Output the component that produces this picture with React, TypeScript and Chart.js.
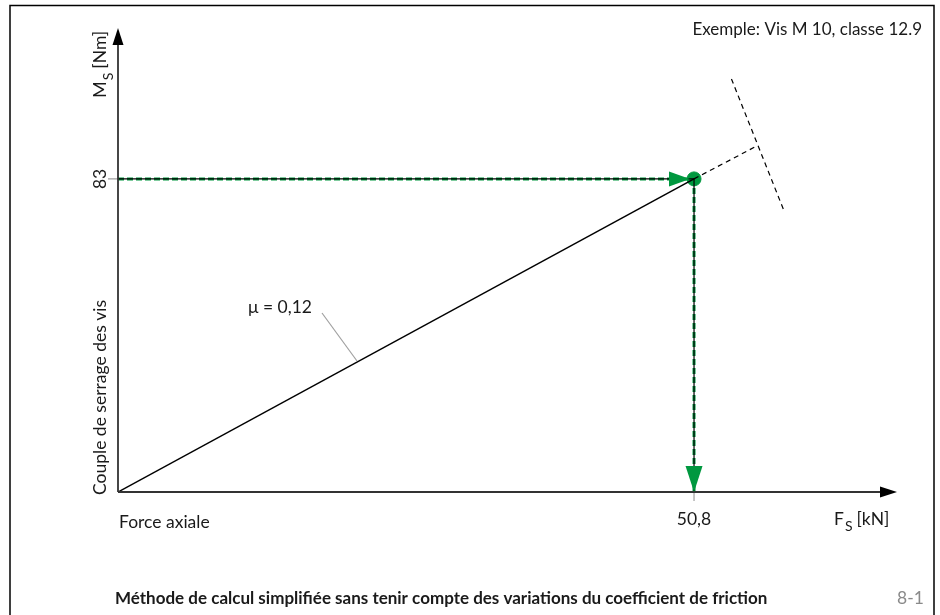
import React, { useEffect, useRef } from "react";
import { Chart, registerables } from "chart.js";

Chart.register(...registerables);

// ---- data ----
const forceValue = 50.8; // kN
const torqueValue = 83; // Nm
const xMax = 68.7;
const yMax = 123;
const frictionLine = [
  { x: 0, y: 0 },
  { x: 50.8, y: 83 },
];
const extensionLine = [
  { x: 50.8, y: 83 },
  { x: 56.35, y: 91.75 },
];
const limitLine = [
  { x: 54.1, y: 109.5 },
  { x: 58.7, y: 74.8 },
];
const horizGuide = [
  { x: 0, y: 83 },
  { x: 50.8, y: 83 },
];
const vertGuide = [
  { x: 50.8, y: 83 },
  { x: 50.8, y: 0 },
];
const xTickLabel = "50,8";
const yTickLabel = "83";
const muLabel = "μ = 0,12";
const titleText = "Exemple: Vis M 10, classe 12.9";
const footerText =
  "Méthode de calcul simplifiée sans tenir compte des variations du coefficient de friction";
const figNumber = "8-1";

const GREEN = "#00983f";
const TEXT = "#1a1a1a";
const FONT = "Lato, 'Open Sans', sans-serif";
const FS = 17.5;

const overlay = {
  id: "overlay",
  afterDatasetsDraw(chart: any) {
    const ctx = chart.ctx as CanvasRenderingContext2D;
    const xs = chart.scales.x;
    const ys = chart.scales.y;
    const x0 = xs.getPixelForValue(0);
    const y0 = ys.getPixelForValue(0);
    const xEnd = xs.getPixelForValue(xMax);
    const yTop = ys.getPixelForValue(yMax);
    const px = xs.getPixelForValue(forceValue);
    const py = ys.getPixelForValue(torqueValue);
    ctx.save();

    // frame
    ctx.strokeStyle = "#000";
    ctx.lineWidth = 1.5;
    ctx.beginPath();
    ctx.moveTo(10, 640);
    ctx.lineTo(10, 5.5);
    ctx.lineTo(934, 5.5);
    ctx.lineTo(934, 640);
    ctx.stroke();

    // tick marks (grey)
    ctx.strokeStyle = "#a0a0a0";
    ctx.lineWidth = 1.2;
    ctx.beginPath();
    ctx.moveTo(x0 - 10, py);
    ctx.lineTo(x0, py);
    ctx.moveTo(px, y0);
    ctx.lineTo(px, y0 + 9);
    ctx.stroke();

    // mu leader line
    ctx.beginPath();
    ctx.moveTo(322, 313);
    ctx.lineTo(357, 361);
    ctx.stroke();

    // axes
    ctx.strokeStyle = "#333";
    ctx.fillStyle = "#000";
    ctx.lineWidth = 1.8;
    ctx.beginPath();
    ctx.moveTo(x0, y0);
    ctx.lineTo(xEnd - 10, y0);
    ctx.moveTo(x0, y0);
    ctx.lineTo(x0, yTop + 10);
    ctx.stroke();
    ctx.beginPath();
    ctx.moveTo(xEnd, y0);
    ctx.lineTo(xEnd - 17, y0 - 5.5);
    ctx.lineTo(xEnd - 17, y0 + 5.5);
    ctx.closePath();
    ctx.fill();
    ctx.beginPath();
    ctx.moveTo(x0, yTop);
    ctx.lineTo(x0 - 5.5, yTop + 17);
    ctx.lineTo(x0 + 5.5, yTop + 17);
    ctx.closePath();
    ctx.fill();

    // green arrowheads
    ctx.fillStyle = GREEN;
    ctx.beginPath();
    ctx.moveTo(px - 4, py);
    ctx.lineTo(px - 25, py - 7.5);
    ctx.lineTo(px - 25, py + 7.5);
    ctx.closePath();
    ctx.fill();
    ctx.beginPath();
    ctx.moveTo(px, y0);
    ctx.lineTo(px - 8.5, y0 - 26);
    ctx.lineTo(px + 8.5, y0 - 26);
    ctx.closePath();
    ctx.fill();

    // texts
    ctx.fillStyle = TEXT;
    ctx.textBaseline = "alphabetic";
    ctx.textAlign = "right";
    ctx.font = `17px ${FONT}`;
    ctx.fillText(titleText, 922, 35);
    ctx.font = `${FS}px ${FONT}`;
    ctx.textAlign = "left";
    ctx.fillText("Force axiale", x0 + 1, 528);
    ctx.fillText(muLabel, 248, 313);
    ctx.textAlign = "center";
    ctx.fillText(xTickLabel, px, 525);
    // F_S [kN]
    ctx.textAlign = "left";
    ctx.fillText("F", 834, 525);
    const fw = ctx.measureText("F").width;
    ctx.font = `14px ${FONT}`;
    ctx.fillText("S", 834 + fw + 1, 531);
    const sw = ctx.measureText("S").width;
    ctx.font = `${FS}px ${FONT}`;
    ctx.fillText("[kN]", 834 + fw + sw + 5, 525);

    // rotated y texts
    const rot = (fn: () => void, x: number, y: number) => {
      ctx.save();
      ctx.translate(x, y);
      ctx.rotate(-Math.PI / 2);
      fn();
      ctx.restore();
    };
    rot(() => {
      ctx.textAlign = "center";
      ctx.fillText(yTickLabel, 0, 0);
    }, 106, py);
    rot(() => {
      ctx.textAlign = "left";
      ctx.fillText("Couple de serrage des vis", 0, 0);
    }, 106, 495);
    rot(() => {
      ctx.textAlign = "left";
      ctx.font = `18px ${FONT}`;
      ctx.fillText("M", 0, 0);
      const mw = ctx.measureText("M").width;
      ctx.font = `14px ${FONT}`;
      ctx.fillText("S", mw + 1, 7);
      const s2 = ctx.measureText("S").width;
      ctx.font = `${FS}px ${FONT}`;
      ctx.fillText("[Nm]", mw + s2 + 5, 0);
    }, 106, 98);

    // footer
    ctx.textAlign = "left";
    ctx.font = `bold 17px ${FONT}`;
    ctx.fillText(footerText, 115, 604);
    ctx.font = `${FS}px ${FONT}`;
    ctx.fillStyle = "#8a8a8a";
    ctx.fillText(figNumber, 897, 604);

    ctx.restore();
  },
};

export default function App() {
  const ref = useRef<HTMLCanvasElement | null>(null);
  useEffect(() => {
    if (!ref.current) return;
    const line = (data: any, color: string, width: number, dash: number[] = []) => ({
      type: "line" as const,
      data,
      borderColor: color,
      borderWidth: width,
      borderDash: dash,
      pointRadius: 0,
      fill: false,
      showLine: true,
    });
    const chart = new Chart(ref.current, {
      type: "scatter",
      data: {
        datasets: [
          line(frictionLine, "#000", 1.5),
          line(extensionLine, "#000", 1.2, [5, 4]),
          line(limitLine, "#000", 1.2, [5, 4]),
          line(horizGuide, "#000", 1.2),
          line(horizGuide, GREEN, 3, [6, 3]),
          line(vertGuide, "#000", 1.2),
          line(vertGuide, GREEN, 3, [6, 3]),
          {
            type: "scatter" as const,
            data: [{ x: forceValue, y: torqueValue }],
            backgroundColor: GREEN,
            borderColor: GREEN,
            pointRadius: 7,
          },
        ] as any,
      },
      options: {
        animation: false,
        responsive: false,
        maintainAspectRatio: false,
        layout: { padding: { left: 118, right: 43, top: 28, bottom: 123 } },
        plugins: { legend: { display: false }, tooltip: { enabled: false } },
        scales: {
          x: { type: "linear", min: 0, max: xMax, display: false },
          y: { type: "linear", min: 0, max: yMax, display: false },
        },
      },
      plugins: [overlay],
    });
    return () => chart.destroy();
  }, []);
  return (
    <div style={{ position: "fixed", left: 0, top: 0, width: 940, height: 615, background: "#fff" }}>
      <canvas ref={ref} width={940} height={615} style={{ display: "block" }} />
    </div>
  );
}
